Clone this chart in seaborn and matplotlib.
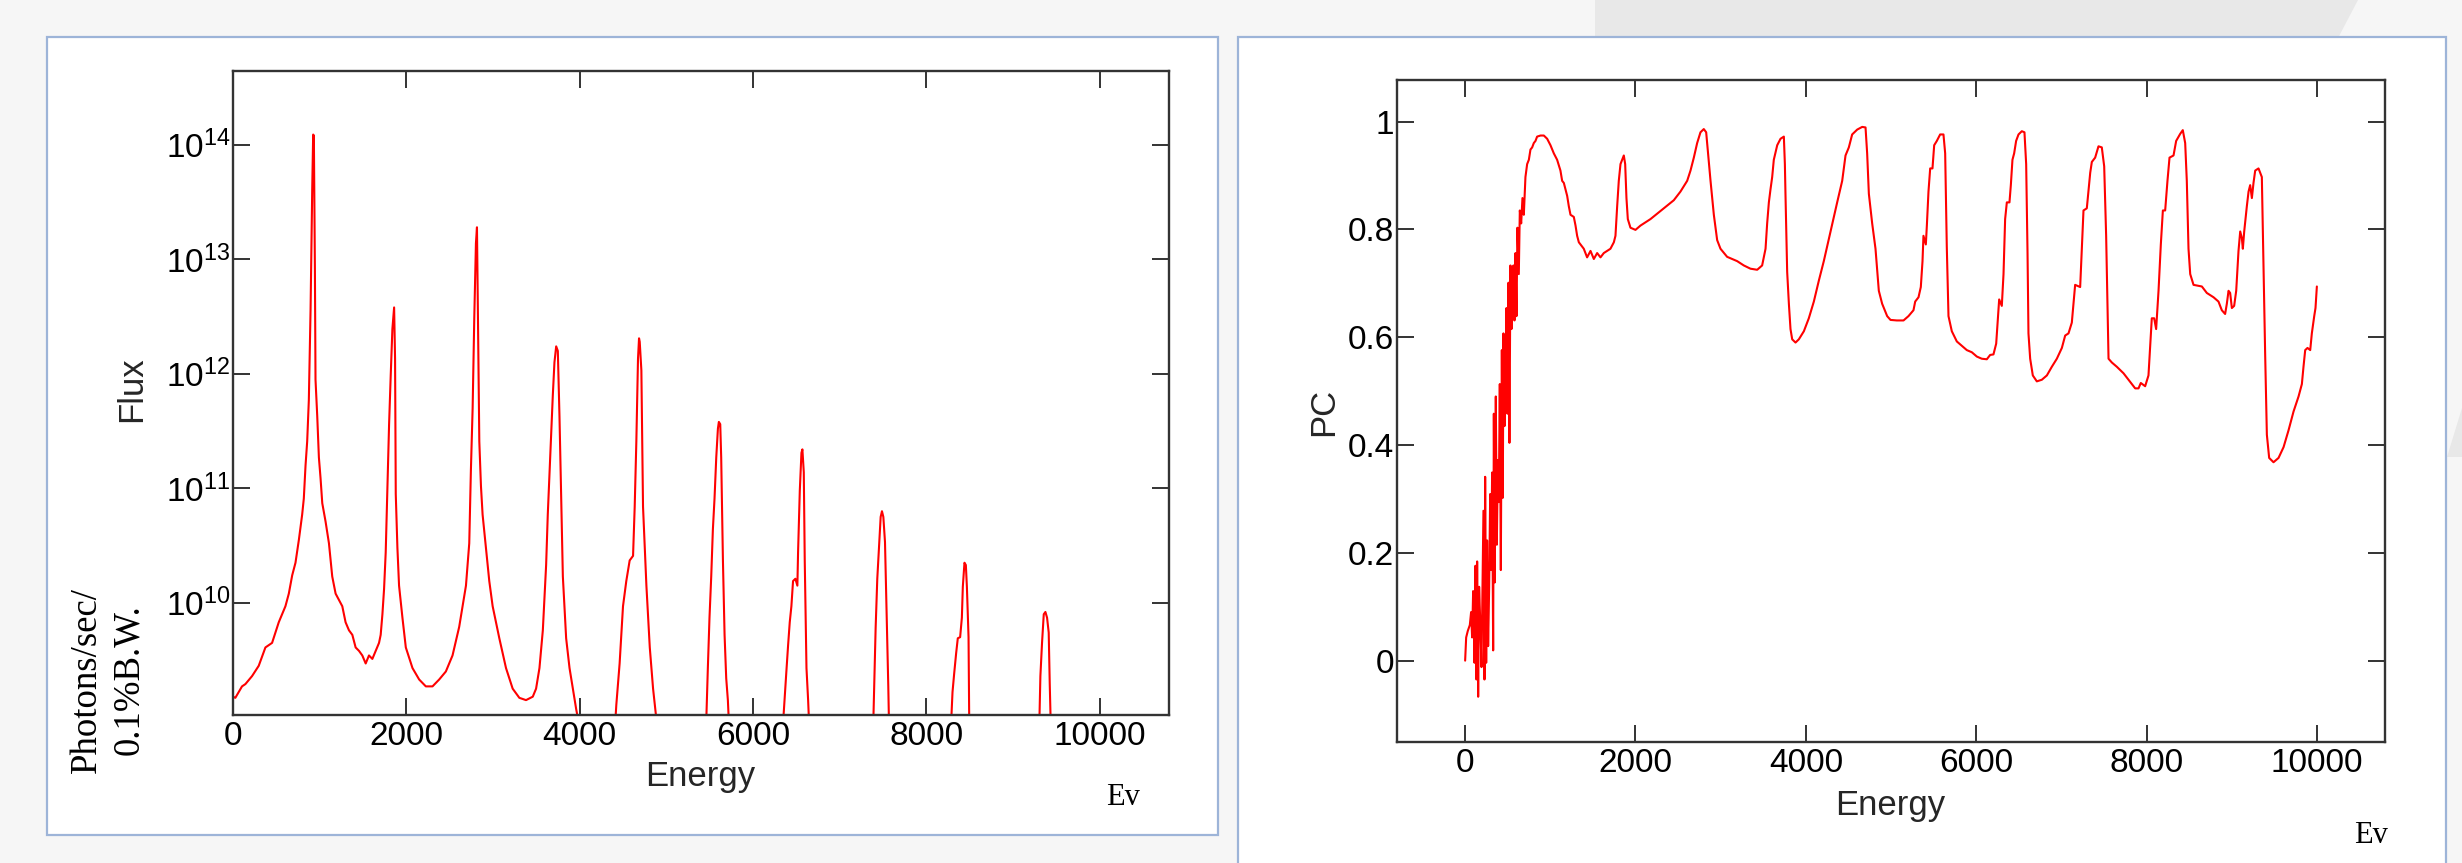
import numpy as np
import pandas as pd
import matplotlib
matplotlib.use("Agg")
import matplotlib.pyplot as plt
import seaborn as sns
from matplotlib.patches import Rectangle, Polygon
from matplotlib.ticker import FixedLocator, FixedFormatter, NullLocator

# ---------------- data ----------------
# Left panel: flux spectrum, energy in eV, flux given as log10(photons/sec/0.1%BW)
flux_energy = [
    0, 27, 104, 143, 220, 297, 374, 451, 528, 567, 605, 644, 683, 721, 760, 798, 817, 837, 856, 875,
    895, 914, 925, 933, 945, 952, 972, 991, 1010, 1030, 1068, 1107, 1145, 1184, 1261, 1299, 1338,
    1377, 1415, 1454, 1492, 1531, 1569, 1608, 1647, 1685, 1704, 1724, 1743, 1762, 1781, 1801, 1820,
    1839, 1859, 1870, 1878, 1897, 1916, 1955, 1994, 2071, 2148, 2225, 2302, 2379, 2456, 2533, 2610,
    2688, 2726, 2745, 2765, 2784, 2803, 2815, 2823, 2842, 2861, 2880, 2919, 2957, 2996, 3073, 3150,
    3227, 3304, 3381, 3459, 3497, 3536, 3575, 3613, 3632, 3652, 3671, 3690, 3709, 3729, 3748, 3767,
    3787, 3806, 3844, 3883, 3921, 3960, 3990, 4200,
    4410, 4423, 4461, 4500, 4538, 4577, 4616, 4635, 4654, 4673, 4685, 4693, 4712, 4731, 4770, 4809,
    4847, 4890, 5170,
    5460, 5479, 5498, 5518, 5537, 5556, 5576, 5595, 5606, 5622, 5633, 5653, 5672, 5691, 5710, 5722,
    6030,
    6347, 6366, 6385, 6405, 6424, 6443, 6462, 6489, 6512, 6520, 6540, 6559, 6570, 6586, 6597, 6617,
    6636, 6647, 7020,
    7388, 7399, 7415, 7434, 7457, 7473, 7488, 7504, 7523, 7542, 7561, 7569, 7930,
    8286, 8302, 8321, 8344, 8363, 8390, 8410, 8421, 8440, 8456, 8468, 8487, 8495, 8900,
    9304, 9316, 9335, 9355, 9374, 9393, 9412, 9424, 9435, 10000,
]
flux_log10 = [
    9.18, 9.17, 9.27, 9.29, 9.36, 9.45, 9.61, 9.65, 9.83, 9.90, 9.97, 10.08, 10.24, 10.35, 10.55,
    10.77, 10.91, 11.20, 11.41, 11.77,
    12.56, 13.61, 14.09, 14.08, 12.92, 11.95, 11.63, 11.27, 11.09, 10.87, 10.71, 10.52, 10.23, 10.08,
    9.97, 9.83, 9.76,
    9.72, 9.61, 9.58, 9.54, 9.47, 9.54, 9.51, 9.58, 9.65, 9.72, 9.90, 10.12, 10.44, 10.98, 11.56,
    11.99,
    12.39, 12.58, 12.13, 10.95, 10.48, 10.15, 9.87, 9.61, 9.43, 9.33, 9.27, 9.27, 9.33, 9.40, 9.54,
    9.79,
    10.15, 10.52, 11.16, 11.70, 12.49, 13.14, 13.28, 12.71, 11.41, 11.02, 10.77, 10.48, 10.19, 9.97,
    9.69, 9.43,
    9.25, 9.17, 9.15, 9.18, 9.25, 9.43, 9.76, 10.33, 10.77, 11.13, 11.49, 11.81, 12.10, 12.24, 12.20,
    11.63,
    10.91, 10.23, 9.69, 9.43, 9.25, 9.07, 8.95, 8.0,
    8.95, 9.11, 9.47, 9.97, 10.19, 10.37, 10.41, 10.84, 11.41, 12.13, 12.31, 12.28, 12.03, 10.84,
    10.15, 9.61,
    9.25, 8.95, 8.0,
    8.95, 9.43, 9.87, 10.23, 10.64, 10.91, 11.27, 11.52, 11.58, 11.56, 11.27, 10.37, 9.72, 9.34,
    9.15, 8.95,
    8.0,
    8.95, 9.18, 9.40, 9.63, 9.83, 9.97, 10.19, 10.21, 10.15, 10.44, 10.98, 11.31, 11.34, 11.14,
    10.37, 9.43,
    9.15, 8.95, 8.0,
    8.95, 9.29, 9.78, 10.21, 10.52, 10.75, 10.80, 10.75, 10.53, 9.92, 9.27, 8.95, 8.0,
    8.95, 9.22, 9.38, 9.56, 9.69, 9.70, 9.87, 10.14, 10.35, 10.33, 10.14, 9.70, 8.95, 8.0,
    8.95, 9.36, 9.65, 9.90, 9.92, 9.87, 9.74, 9.29, 8.95, 8.0,
]

# Right panel: PC versus energy
pc_energy = [
    0, 12, 31, 55, 70, 82, 94, 110, 121, 133, 141, 153, 164, 180, 192, 204, 215, 227, 235, 247, 258,
    270, 282, 294, 305, 317, 329, 337, 348, 360, 372, 384, 395, 407, 419, 431, 442, 450, 462, 474,
    485, 497, 509, 520, 532, 544, 556, 567, 579, 591, 603, 614, 630, 642, 658, 673, 689, 708, 728,
    748, 767, 787, 806, 826, 845, 885, 924, 963, 1002, 1041, 1080, 1119, 1139, 1159, 1178, 1198,
    1217, 1237, 1276, 1296, 1315, 1335, 1354, 1393, 1413, 1432, 1472, 1511, 1550, 1589, 1628, 1706,
    1746, 1765, 1785, 1804, 1824, 1844, 1863, 1879, 1894, 1910, 1941, 2000, 2059, 2176, 2333, 2450,
    2528, 2607, 2646, 2685, 2724, 2763, 2802, 2830, 2861, 2881, 2920, 2959, 2998, 3076, 3194, 3272,
    3350, 3429, 3487, 3527, 3546, 3566, 3585, 3605, 3624, 3664, 3703, 3742, 3754, 3761, 3781, 3801,
    3820, 3840, 3879, 3918, 3977, 4035, 4094, 4153, 4211, 4290, 4368, 4427, 4466, 4505, 4544, 4603,
    4662, 4701, 4720, 4740, 4779, 4818, 4838, 4857, 4896, 4955, 4994, 5068, 5147, 5205, 5264, 5284,
    5323, 5350, 5370, 5381, 5409, 5421, 5440, 5460, 5487, 5507, 5538, 5577, 5616, 5636, 5655, 5675,
    5714, 5773, 5832, 5890, 5949, 6008, 6066, 6125, 6164, 6203, 6235, 6250, 6270, 6301, 6321, 6340,
    6360, 6391, 6407, 6426, 6446, 6469, 6497, 6536, 6567, 6587, 6603, 6614, 6634, 6665, 6712, 6771,
    6830, 6888, 6947, 7006, 7045, 7084, 7123, 7162, 7221, 7241, 7260, 7299, 7339, 7358, 7397, 7436,
    7475, 7503, 7526, 7554, 7593, 7652, 7730, 7808, 7867, 7906, 7933, 7984, 8023, 8043, 8062, 8090,
    8113, 8141, 8168, 8192, 8219, 8246, 8270, 8317, 8348, 8395, 8426, 8454, 8473, 8493, 8513, 8552,
    8650, 8708, 8787, 8845, 8884, 8923, 8943, 8963, 8982, 9002, 9029, 9053, 9080, 9100, 9119, 9131,
    9147, 9178, 9198, 9217, 9237, 9256, 9276, 9315, 9354, 9374, 9393, 9413, 9440, 9491, 9550, 9609,
    9667, 9726, 9785, 9824, 9843, 9863, 9890, 9922, 9941, 9969, 9984, 10000,
]
pc_value = [
    0.000, 0.043, 0.055, 0.066, 0.090, 0.043, 0.129, -0.004, 0.176, -0.035, 0.184, -0.067, 0.137,
    0.059, -0.012, 0.137, 0.278, -0.035, 0.341, -0.004, 0.223, 0.027, 0.137, 0.309, 0.168, 0.349,
    0.019, 0.458, 0.145, 0.490, 0.215, 0.372, 0.294, 0.513, 0.168, 0.576, 0.302, 0.607, 0.435,
    0.537, 0.654, 0.458, 0.701, 0.404, 0.733, 0.615, 0.701, 0.733, 0.631, 0.756, 0.639, 0.803,
    0.717, 0.835, 0.811, 0.858, 0.827, 0.897, 0.921, 0.929, 0.948, 0.952, 0.960, 0.964, 0.972,
    0.974, 0.974, 0.968, 0.956, 0.941, 0.929, 0.909, 0.890, 0.886, 0.874, 0.862, 0.843, 0.827,
    0.823, 0.807, 0.788, 0.776, 0.772, 0.764, 0.756, 0.748, 0.760, 0.745, 0.756, 0.748, 0.756,
    0.764, 0.776, 0.788, 0.843, 0.890, 0.921, 0.929, 0.937, 0.921, 0.858, 0.819, 0.803, 0.799,
    0.807, 0.819, 0.839, 0.854, 0.870, 0.890, 0.909, 0.933, 0.960, 0.980, 0.986, 0.980, 0.925,
    0.890, 0.827, 0.780, 0.764, 0.749, 0.741, 0.733, 0.727, 0.725, 0.733, 0.764, 0.811, 0.850,
    0.874, 0.897, 0.929, 0.956, 0.968, 0.972, 0.921, 0.866, 0.721, 0.662, 0.615, 0.596, 0.590,
    0.596, 0.611, 0.635, 0.666, 0.705, 0.741, 0.796, 0.850, 0.890, 0.937, 0.952, 0.976, 0.985,
    0.990, 0.989, 0.941, 0.866, 0.811, 0.764, 0.725, 0.686, 0.662, 0.639, 0.632, 0.631, 0.631,
    0.639, 0.650, 0.666, 0.674, 0.693, 0.741, 0.788, 0.772, 0.807, 0.870, 0.913, 0.913, 0.956,
    0.964, 0.976, 0.976, 0.941, 0.768, 0.639, 0.611, 0.592, 0.584, 0.576, 0.572, 0.564, 0.560,
    0.559, 0.567, 0.568, 0.588, 0.623, 0.670, 0.658, 0.717, 0.819, 0.850, 0.850, 0.882, 0.929,
    0.941, 0.964, 0.976, 0.982, 0.980, 0.921, 0.756, 0.607, 0.560, 0.529, 0.518, 0.521, 0.529,
    0.545, 0.560, 0.580, 0.603, 0.607, 0.627, 0.697, 0.693, 0.764, 0.835, 0.839, 0.905, 0.925,
    0.933, 0.954, 0.952, 0.917, 0.788, 0.560, 0.553, 0.545, 0.533, 0.517, 0.505, 0.505, 0.515,
    0.509, 0.529, 0.584, 0.635, 0.635, 0.615, 0.686, 0.772, 0.835, 0.835, 0.890, 0.933, 0.937,
    0.964, 0.977, 0.984, 0.960, 0.890, 0.764, 0.717, 0.697, 0.694, 0.682, 0.674, 0.666, 0.650,
    0.643, 0.662, 0.686, 0.682, 0.654, 0.658, 0.686, 0.760, 0.796, 0.784, 0.764, 0.796, 0.843,
    0.870, 0.882, 0.858, 0.886, 0.909, 0.913, 0.897, 0.725, 0.568, 0.419, 0.376, 0.368, 0.376,
    0.396, 0.427, 0.462, 0.490, 0.513, 0.545, 0.576, 0.580, 0.576, 0.607, 0.639, 0.654, 0.694,
]

x_ticks = [0, 2000, 4000, 6000, 8000, 10000]
x_tick_labels = ["0", "2000", "4000", "6000", "8000", "10000"]
flux_tick_exponents = [10, 11, 12, 13, 14]
pc_ticks = [0, 0.2, 0.4, 0.6, 0.8, 1.0]
pc_tick_labels = ["0", "0.2", "0.4", "0.6", "0.8", "1"]

flux_df = pd.DataFrame({"Energy": flux_energy, "Flux": 10.0 ** np.array(flux_log10)})
pc_df = pd.DataFrame({"Energy": pc_energy, "PC": pc_value})

# ---------------- style ----------------
sns.set_theme(style="white")
plt.rcParams["font.family"] = ["Liberation Sans", "DejaVu Sans"]
plt.rcParams["mathtext.fontset"] = "custom"
plt.rcParams["mathtext.rm"] = "Liberation Sans"
plt.rcParams["mathtext.it"] = "Liberation Sans:italic"
plt.rcParams["mathtext.bf"] = "Liberation Sans:bold"

W, H = 2462, 863
fig = plt.figure(figsize=(W / 100, H / 100), dpi=100)
fig.patch.set_facecolor("#f6f6f6")


def fx(px):
    return px / W


def fy(py):
    return 1 - py / H


# slide decoration
fig.patches.append(Polygon([[fx(1595), fy(0)], [fx(2358), fy(0)], [fx(2337), fy(40)], [fx(1595), fy(40)]],
                           closed=True, transform=fig.transFigure, facecolor="#e8e8e8",
                           edgecolor="none", zorder=-3))
fig.patches.append(Polygon([[fx(2447), fy(457)], [fx(2462), fy(408)], [fx(2462), fy(457)]],
                           closed=True, transform=fig.transFigure, facecolor="#e8e8e8",
                           edgecolor="none", zorder=-3))
# white frames of the two pictures
fig.patches.append(Rectangle((fx(47), fy(835)), (1218 - 47) / W, (835 - 37) / H,
                             transform=fig.transFigure, facecolor="white",
                             edgecolor="#9db4d8", lw=1.6, zorder=-2))
fig.patches.append(Rectangle((fx(1238), fy(880)), (2446 - 1238) / W, (880 - 37) / H,
                             transform=fig.transFigure, facecolor="white",
                             edgecolor="#9db4d8", lw=1.6, zorder=-2))

RED = "#ff0000"
SPINE = "#333333"
TICK_FS = 24
LABEL_FS = 25


def style_axes(ax, pad_x, pad_y):
    ax.set_zorder(2)
    for s in ax.spines.values():
        s.set_color(SPINE)
        s.set_linewidth(1.7)
        s.set_visible(True)
    ax.tick_params(axis="both", which="major", direction="in", length=12, width=1.4,
                   color=SPINE, top=True, right=True, bottom=True, left=True,
                   labelsize=TICK_FS, labelcolor="black")
    ax.tick_params(axis="x", pad=pad_x)
    ax.tick_params(axis="y", pad=pad_y)
    ax.tick_params(which="minor", length=0)
    ax.set_facecolor("white")
    ax.grid(False)


# ---------------- left panel: flux ----------------
ax1 = fig.add_axes([233 / W, (863 - 715) / H, 936 / W, 644 / H])
ax1.set_yscale("log")
sns.lineplot(data=flux_df, x="Energy", y="Flux", ax=ax1, color=RED, lw=1.5,
             sort=False, estimator=None)
ax1.set_xlim(0, 10800)
ax1.set_ylim(10 ** 9.02, 10 ** 14.645)
ax1.xaxis.set_major_locator(FixedLocator(x_ticks))
ax1.xaxis.set_major_formatter(FixedFormatter(x_tick_labels))
ax1.yaxis.set_major_locator(FixedLocator([10.0 ** e for e in flux_tick_exponents]))
ax1.yaxis.set_major_formatter(FixedFormatter([r"$\mathregular{10^{%d}}$" % e for e in flux_tick_exponents]))
ax1.yaxis.set_minor_locator(NullLocator())
style_axes(ax1, pad_x=4, pad_y=2)
ax1.set_xlabel("Energy", fontsize=LABEL_FS, va="center")
ax1.xaxis.set_label_coords(0.499, -0.095)
ax1.set_ylabel("Flux", fontsize=LABEL_FS, va="center")
ax1.yaxis.set_label_coords(-0.1085, 0.506)

fig.text(fx(108), fy(680), "Photons/sec/\n0.1%B.W.", rotation=90, ha="center", va="center",
         multialignment="center", linespacing=1.3, fontsize=26.5,
         family=["Liberation Serif", "DejaVu Serif"], color="black")
fig.text(fx(1123), fy(797), "Ev", ha="center", va="center", fontsize=22,
         family=["Liberation Serif", "DejaVu Serif"], color="black")

# ---------------- right panel: PC ----------------
ax2 = fig.add_axes([1397 / W, (863 - 741.5) / H, 988 / W, 661.5 / H])
sns.lineplot(data=pc_df, x="Energy", y="PC", ax=ax2, color=RED, lw=1.5,
             sort=False, estimator=None)
ax2.set_xlim(-800, 10800)
ax2.set_ylim(-0.15, 1.077)
ax2.xaxis.set_major_locator(FixedLocator(x_ticks))
ax2.xaxis.set_major_formatter(FixedFormatter(x_tick_labels))
ax2.yaxis.set_major_locator(FixedLocator(pc_ticks))
ax2.yaxis.set_major_formatter(FixedFormatter(pc_tick_labels))
style_axes(ax2, pad_x=5, pad_y=2)
ax2.set_xlabel("Energy", fontsize=LABEL_FS, va="center")
ax2.xaxis.set_label_coords(0.499, -0.0975)
ax2.set_ylabel("PC", fontsize=LABEL_FS, va="center")
ax2.yaxis.set_label_coords(-0.074, 0.498)

fig.text(fx(2371), fy(835), "Ev", ha="center", va="center", fontsize=22,
         family=["Liberation Serif", "DejaVu Serif"], color="black")

fig.savefig("out.png", dpi=100, facecolor=fig.get_facecolor())
